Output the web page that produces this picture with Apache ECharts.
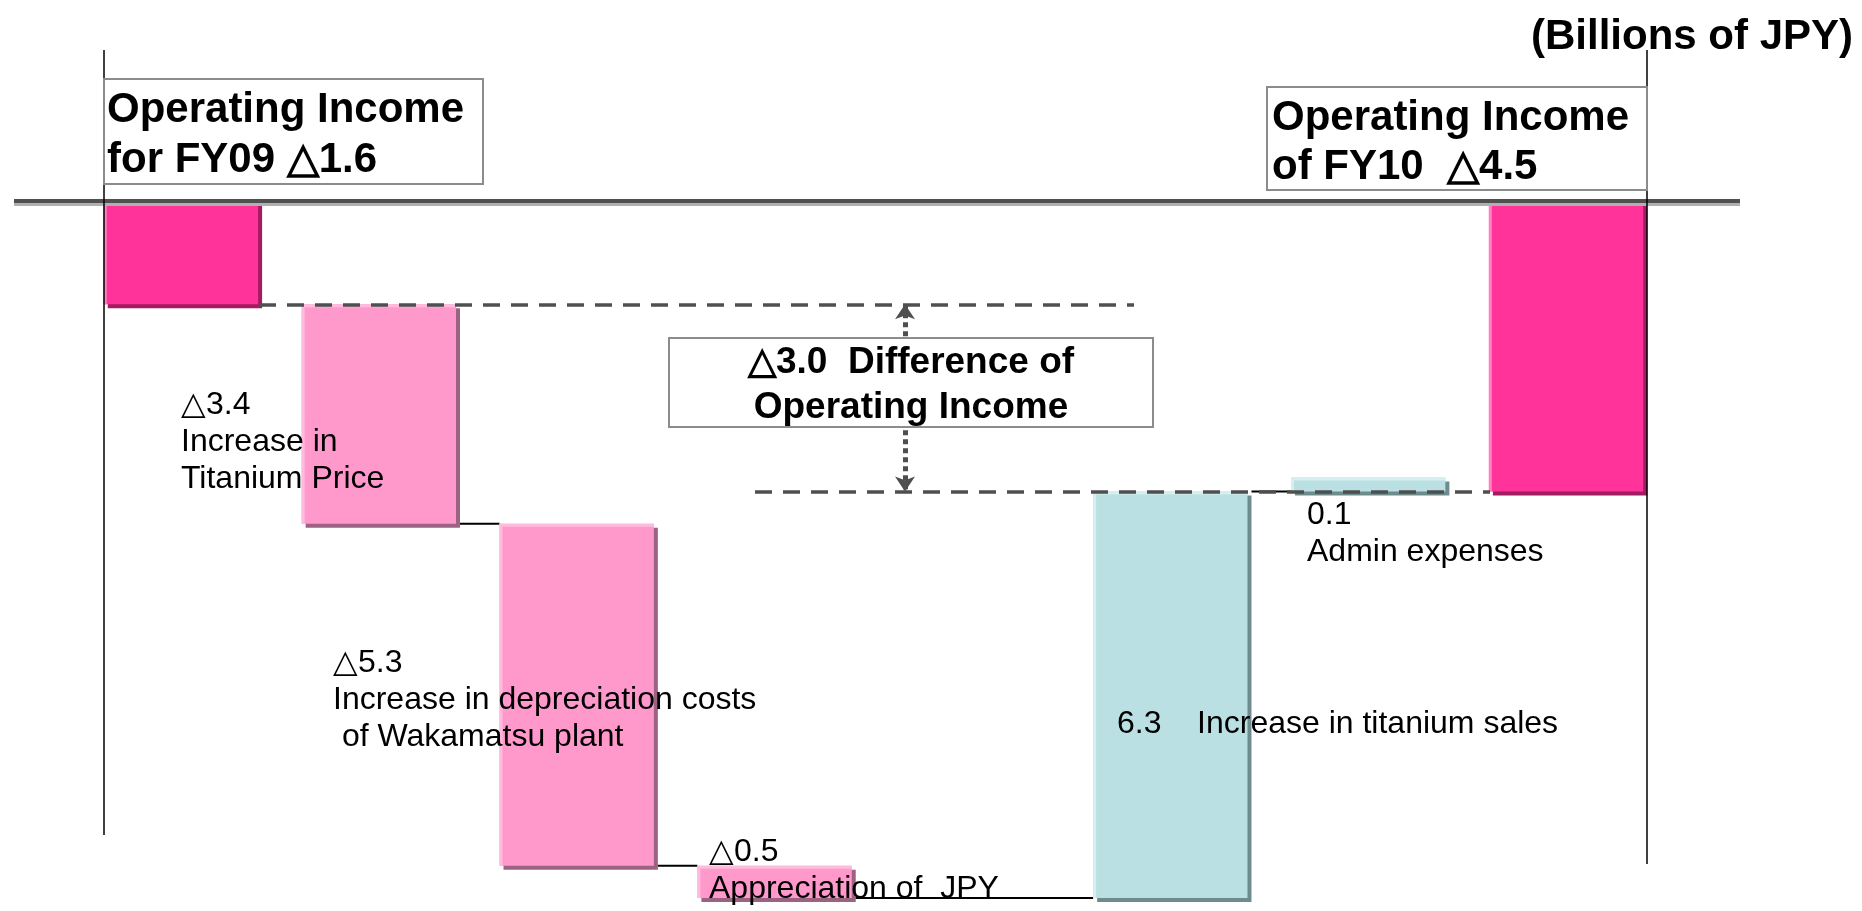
<!DOCTYPE html>
<html>
<head>
<meta charset="utf-8">
<title>Operating income FY09 to FY10</title>
<script src="https://cdn.jsdelivr.net/npm/echarts@6/dist/echarts.min.js"></script>
<style>
  html, body { margin: 0; padding: 0; background: #fff; }
  #chart { width: 1862px; height: 911px; }
</style>
</head>
<body>
<div id="chart"></div>
<script>
// billions of JPY, △ = minus
// the empty slot keeps the gap between the decreases and the increases
var categories = ['FY09', 'Titanium price', 'Depreciation', 'JPY', '', 'Titanium sales', 'Admin expenses', 'FY10']
var deltas = [-1.6, -3.4, -5.3, -0.5, null, 6.3, 0.1, -4.5]
var kinds = ['total', 'down', 'down', 'down', null, 'up', 'up', 'total']
var diffValue = -3.0

var colors = {
  total: { fill: '#FF3399', light: '#FF7FBF', shadow: '#A21C62' },
  down: { fill: '#FF99CC', light: '#FFBBDD', shadow: '#9C6283' },
  up: { fill: '#BAE0E3', light: '#D6EEF0', shadow: '#6E8B8D' }
}

function fmt(v) {
  return (v < 0 ? '△' : '') + Math.abs(v).toFixed(1)
}

// running levels -> [index, start, end]
var bars = []
var level = 0
deltas.forEach(function (d, i) {
  if (d == null) return
  var start = kinds[i] === 'total' ? 0 : level
  var end = start + d
  level = end
  bars.push([i, start, end])
})
var nextBar = {}
for (var k = 0; k < bars.length - 1; k++) nextBar[bars[k][0]] = bars[k + 1][0]
var fy09 = bars[0][2]
var fy10 = bars[bars.length - 1][2]

function renderBar(params, api) {
  var i = api.value(0)
  var start = api.value(1)
  var end = api.value(2)
  var c = colors[kinds[i]]
  var w = api.size([1, 0])[0] * 0.78
  var a = api.coord([i, start])
  var b = api.coord([i, end])
  var x = a[0] - w / 2
  var h = Math.abs(b[1] - a[1])
  var y = Math.min(a[1], b[1])
  // like barMinHeight, tiny bars grow from their start
  if (h < 14) {
    h = 14
    y = end > start ? a[1] - h : a[1]
  }
  var kids = [
    { type: 'rect', shape: { x: x + 4, y: y + 4, width: w, height: h }, style: { fill: c.shadow } },
    { type: 'rect', shape: { x: x, y: y, width: w, height: h }, style: { fill: c.fill } },
    { type: 'rect', shape: { x: x, y: y, width: w, height: 3 }, style: { fill: c.light } },
    { type: 'rect', shape: { x: x, y: y, width: 3, height: h }, style: { fill: c.light } }
  ]
  var n = nextBar[i]
  if (kinds[i] !== 'total' && n != null && kinds[n] !== 'total') {
    var p = api.coord([n, end])
    kids.push({
      type: 'line',
      shape: { x1: x + w + 4, y1: b[1], x2: p[0] - w / 2, y2: b[1] },
      style: { stroke: '#000', lineWidth: 2 }
    })
  }
  return { type: 'group', children: kids }
}

var FONT = '"Liberation Sans", Arial, sans-serif'

function note(x, yFirst, text) {
  return {
    type: 'text', z: 10, silent: true,
    style: {
      text: text, x: x, y: yFirst - 18.5,
      font: '32px ' + FONT, fill: '#000',
      lineHeight: 37, verticalAlign: 'top', textVerticalAlign: 'top'
    }
  }
}

function boxText(x, y, text, size, lh, align) {
  return {
    type: 'text', z: 11, silent: true,
    style: {
      text: text, x: x, y: y - lh / 2,
      font: 'bold ' + size + 'px ' + FONT, fill: '#000',
      lineHeight: lh, verticalAlign: 'top', textVerticalAlign: 'top',
      align: align || 'left', textAlign: align || 'left'
    }
  }
}

function box(x, y, w, h) {
  return {
    type: 'rect', z: 10, silent: true,
    shape: { x: x, y: y, width: w, height: h },
    style: { fill: '#fff', stroke: '#8c8c8c', lineWidth: 2 }
  }
}

function vline(x, y1, y2) {
  return {
    type: 'line', z: 10, silent: true,
    shape: { x1: x, y1: y1, x2: x, y2: y2 },
    style: { stroke: '#000', lineWidth: 1.5 }
  }
}

var dashStyle = { color: '#4f4f4f', width: 3.5, type: [17, 11] }

var option = {
  animation: false,
  backgroundColor: '#fff',
  grid: { left: 82, right: 197, top: 201, bottom: 0 },
  xAxis: { type: 'category', data: categories, show: false },
  yAxis: { type: 'value', min: -11, max: 0, show: false },
  series: [
    {
      type: 'custom',
      renderItem: renderBar,
      encode: { x: 0, y: [1, 2] },
      data: bars,
      clip: false,
      z: 2,
      markLine: {
        silent: true,
        symbol: 'none',
        label: { show: false },
        data: [
          [
            { x: 14, yAxis: 0, lineStyle: { color: '#505050', width: 4, type: 'solid', shadowColor: '#b0b0b0', shadowOffsetY: 3 } },
            { x: 1740, yAxis: 0 }
          ],
          [{ x: 259, yAxis: fy09, lineStyle: dashStyle }, { x: 1134, yAxis: fy09 }],
          [{ x: 755, yAxis: fy10, lineStyle: dashStyle }, { x: 1490, yAxis: fy10 }],
          [
            { x: 905, yAxis: fy09, symbol: 'arrow', symbolSize: 15, lineStyle: { color: '#4f4f4f', width: 5, type: [5, 4] } },
            { x: 905, yAxis: fy10, symbol: 'arrow', symbolSize: 15 }
          ]
        ]
      }
    }
  ],
  graphic: [
    vline(104, 50, 835),
    vline(1647, 50, 864),
    {
      type: 'text', z: 10, silent: true,
      style: {
        text: '(Billions of JPY)', x: 1853, y: 37,
        font: 'bold 42px ' + FONT, fill: '#000',
        align: 'right', textAlign: 'right', verticalAlign: 'middle', textVerticalAlign: 'middle'
      }
    },
    box(104, 79, 379, 105),
    boxText(107, 110, 'Operating Income\nfor FY09 ' + fmt(fy09), 42, 50),
    box(1267, 87, 380, 103),
    boxText(1272, 118, 'Operating Income\nof FY10  ' + fmt(fy10), 42, 49),
    box(669, 338, 484, 89),
    boxText(911, 363, fmt(diffValue) + '  Difference of\nOperating Income', 37, 45, 'center'),
    note(181, 405, fmt(deltas[1]) + '\nIncrease in\nTitanium Price'),
    note(333, 663, fmt(deltas[2]) + '\nIncrease in depreciation costs\n of Wakamatsu plant'),
    note(709, 852, fmt(deltas[3]) + '\nAppreciation of  JPY'),
    note(1117, 724, fmt(deltas[5]) + '    Increase in titanium sales'),
    note(1307, 515, fmt(deltas[6]) + '\nAdmin expenses')
  ]
}

var chart = echarts.init(document.getElementById('chart'))
chart.setOption(option)
</script>
</body>
</html>
